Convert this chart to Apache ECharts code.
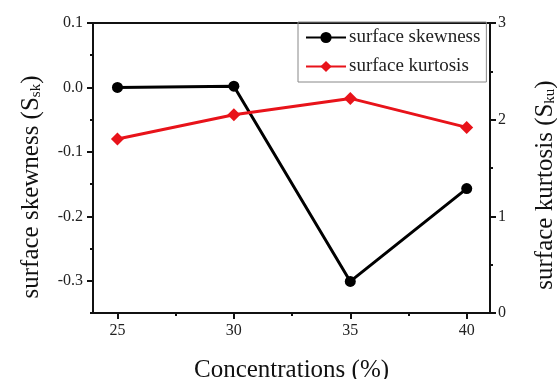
<!DOCTYPE html>
<html>
<head>
<meta charset="utf-8">
<script src="https://cdn.jsdelivr.net/npm/echarts@6/dist/echarts.min.js"></script>
<style>
  html, body { margin: 0; padding: 0; background: #fff; }
  #chart { width: 557px; height: 379px; }
</style>
</head>
<body>
<div id="chart"></div>
<script>
  // data
  var concentrations = [25, 30, 35, 40];
  var skewness = [0.0, 0.002, -0.301, -0.157];
  var kurtosis = [1.80, 2.05, 2.22, 1.92];

  var xMajor = [25, 30, 35, 40];
  var xMinor = [27.5, 32.5, 37.5];
  var skMajor = [-0.3, -0.2, -0.1, 0.0, 0.1];
  var skMinor = [-0.35, -0.25, -0.15, -0.05, 0.05];
  var kuMajor = [0, 1, 2, 3];
  var kuMinor = [0.5, 1.5, 2.5];

  var FONT = 'Liberation Serif';
  var RED = '#e8131a';

  function pairs(xs, ys) {
      return xs.map(function (x, i) { return [x, ys[i]]; });
  }

  // rotated title with a subscript; the end padding pushes it a bit below centre like the original
  function axisName(main, sub, shift) {
      return {
          name: '{m|' + main + ' (S}{s|' + sub + '}{e|)}',
          nameLocation: 'middle',
          nameRotate: 90,
          nameTextStyle: {
              rich: {
                  m: { fontFamily: FONT, fontSize: 25, color: '#111' },
                  e: { fontFamily: FONT, fontSize: 25, color: '#111', padding: [0, shift, 0, 0] },
                  s: { fontFamily: FONT, fontSize: 15, color: '#111', padding: [10, 0, 0, 0] }
              }
          }
      };
  }

  var chart = echarts.init(document.getElementById('chart'));

  var skAxis = Object.assign({
      type: 'value', position: 'left', min: -0.35, max: 0.1,
      nameGap: 49,
      axisLine: { show: true, onZero: false, lineStyle: { color: '#111', width: 2 } },
      axisTick: { show: true, inside: false, length: 6, customValues: skMajor, lineStyle: { color: '#111', width: 2 } },
      axisLabel: { customValues: skMajor, fontFamily: FONT, fontSize: 16, color: '#222', margin: 10,
          formatter: function (v) { return v.toFixed(1); } },
      splitLine: { show: false }
  }, axisName('surface skewness', 'sk', 38));

  var kuAxis = Object.assign({
      type: 'value', position: 'right', min: 0, max: 3,
      nameGap: 43,
      axisLine: { show: true, onZero: false, lineStyle: { color: '#111', width: 2 } },
      axisTick: { show: true, inside: false, length: 6, customValues: kuMajor, lineStyle: { color: '#111', width: 2 } },
      axisLabel: { customValues: kuMajor, fontFamily: FONT, fontSize: 16, color: '#222', margin: 8 },
      splitLine: { show: false }
  }, axisName('surface kurtosis', 'ku', 34));

  function minorAxis(pos, min, max, vals) {
      return {
          type: 'value', position: pos, min: min, max: max,
          axisLine: { show: false, onZero: false },
          axisTick: { show: true, inside: false, length: 3, customValues: vals, lineStyle: { color: '#111', width: 2 } },
          axisLabel: { show: false },
          splitLine: { show: false }
      };
  }

  var option = {
      animation: false,
      backgroundColor: '#fff',
      grid: { left: 93, right: 67, top: 23, bottom: 66, outerBoundsMode: 'none', containLabel: false,
          show: true, borderColor: '#111', borderWidth: 2 },
      legend: {
          left: 298, top: 22, orient: 'vertical',
          padding: [6, 6, 6, 7],
          itemWidth: 40, itemHeight: 14, itemGap: 10,
          borderColor: '#888', borderWidth: 1,
          textStyle: { fontFamily: FONT, fontSize: 19, color: '#222', padding: [0, 0, 0, -2] },
          data: ['surface skewness', 'surface kurtosis']
      },
      xAxis: [{
          type: 'value', min: 23.95, max: 41,
          name: 'Concentrations (%)', nameLocation: 'middle', nameGap: 45,
          nameTextStyle: { fontFamily: FONT, fontSize: 25, color: '#111' },
          axisLine: { show: true, onZero: false, lineStyle: { color: '#111', width: 2 } },
          axisTick: { show: true, inside: false, length: 6, customValues: xMajor, lineStyle: { color: '#111', width: 2 } },
          axisLabel: { customValues: xMajor, fontFamily: FONT, fontSize: 16, color: '#222', margin: 10 },
          splitLine: { show: false }
      }, minorAxis('bottom', 23.95, 41, xMinor)],
      yAxis: [skAxis, kuAxis, minorAxis('left', -0.35, 0.1, skMinor), minorAxis('right', 0, 3, kuMinor)],
      series: [{
          name: 'surface skewness', type: 'line', xAxisIndex: 0, yAxisIndex: 0,
          data: pairs(concentrations, skewness),
          symbol: 'circle', symbolSize: 11,
          itemStyle: { color: '#000' },
          lineStyle: { color: '#000', width: 3 }
      }, {
          name: 'surface kurtosis', type: 'line', xAxisIndex: 0, yAxisIndex: 1,
          data: pairs(concentrations, kurtosis),
          symbol: 'diamond', symbolSize: 13,
          itemStyle: { color: RED },
          lineStyle: { color: RED, width: 3 }
      }]
  };

  chart.setOption(option);
</script>
</body>
</html>
